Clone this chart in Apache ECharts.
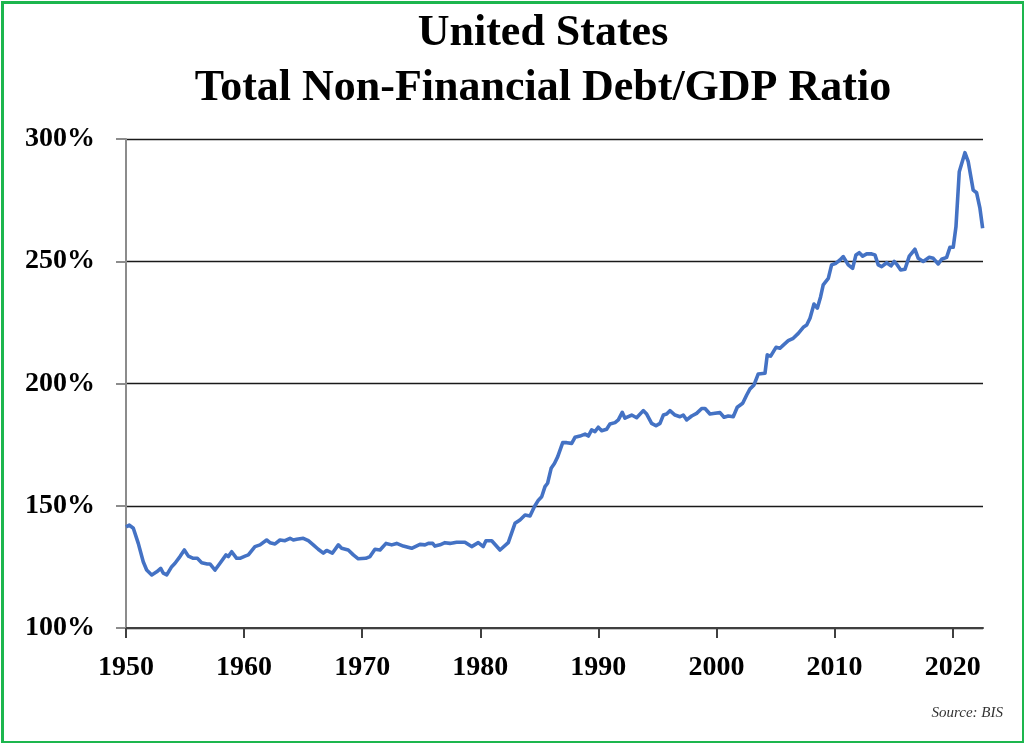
<!DOCTYPE html>
<html>
<head>
<meta charset="utf-8">
<script src="https://cdn.jsdelivr.net/npm/echarts@6/dist/echarts.min.js"></script>
<style>
html,body{margin:0;padding:0;background:#fff;}
#chart{width:1024px;height:743px;}
</style>
</head>
<body>
<div id="chart"></div>
<script>
const titleLines = ['United States', 'Total Non-Financial Debt/GDP Ratio'];
const sourceText = 'Source: BIS';
const xTickYears = [1950, 1960, 1970, 1980, 1990, 2000, 2010, 2020];
const yTicks = [100, 150, 200, 250, 300];

const years = [
1950.0,1950.28,1950.62,1951.04,1951.46,1951.75,1952.18,1952.6,1952.94,1953.16,
1953.45,1953.87,1954.15,1954.57,1954.94,1955.28,1955.7,1956.04,1956.41,1956.88,
1957.11,1957.54,1957.96,1958.47,1958.66,1958.95,1959.37,1959.65,1960.08,1960.36,
1960.92,1961.35,1961.91,1962.19,1962.62,1963.04,1963.46,1963.89,1964.17,1964.45,
1965.01,1965.44,1965.86,1966.28,1966.71,1966.99,1967.47,1967.98,1968.26,1968.82,
1969.25,1969.67,1970.3,1970.66,1971.08,1971.51,1972.02,1972.5,1972.92,1973.48,
1974.19,1974.89,1975.32,1975.6,1975.97,1976.16,1976.59,1977.01,1977.43,1978.0,
1978.7,1979.27,1979.83,1980.25,1980.48,1980.97,1981.67,1982.37,1982.94,1983.36,
1983.79,1984.21,1984.58,1984.92,1985.2,1985.48,1985.7,1986.0,1986.28,1986.56,
1986.98,1987.32,1987.74,1988.02,1988.44,1988.87,1989.15,1989.43,1989.71,1989.99,
1990.28,1990.7,1990.98,1991.41,1991.69,1992.02,1992.25,1992.82,1993.24,1993.8,
1994.09,1994.51,1994.88,1995.22,1995.5,1995.78,1996.06,1996.49,1996.91,1997.19,
1997.48,1997.9,1998.32,1998.75,1999.03,1999.45,1999.87,2000.3,2000.64,2001.0,
2001.42,2001.76,2002.22,2002.56,2002.84,2003.18,2003.54,2004.11,2004.3,2004.59,
2005.04,2005.38,2005.66,2006.08,2006.5,2006.93,2007.35,2007.64,2007.92,2008.26,
2008.54,2008.82,2009.04,2009.47,2009.75,2010.12,2010.46,2010.74,2011.16,2011.53,
2011.81,2012.09,2012.38,2012.72,2013.14,2013.42,2013.7,2013.99,2014.41,2014.78,
2015.05,2015.31,2015.6,2015.96,2016.33,2016.81,2017.09,2017.51,2018.02,2018.36,
2018.78,2019.07,2019.49,2019.77,2020.05,2020.28,2020.56,2021.04,2021.32,2021.74,
2022.03,2022.31,2022.54
];
const debtToGdp = [
141.4,142.1,140.8,134.6,127.1,123.7,121.7,123.0,124.4,122.4,
121.7,125.1,126.5,129.2,131.9,129.4,128.5,128.5,126.7,126.2,
126.2,123.7,126.5,129.9,129.2,131.2,128.5,128.5,129.4,129.9,
133.3,134.0,136.0,134.9,134.4,136.0,135.7,136.7,136.0,136.3,
136.7,135.7,134.0,132.2,130.6,131.7,130.6,134.0,132.6,131.9,
129.9,128.3,128.5,129.2,132.2,131.9,134.6,134.0,134.6,133.5,
132.6,134.2,134.0,134.6,134.6,133.5,134.0,134.9,134.6,135.1,
135.1,133.3,134.9,133.3,135.7,135.7,131.9,134.9,142.8,144.2,
146.2,145.8,149.6,152.3,153.7,157.8,159.2,165.3,167.3,170.1,
175.8,175.8,175.5,178.0,178.5,179.3,178.5,181.0,180.3,182.1,
180.7,181.3,183.4,184.0,185.1,188.2,185.8,187.1,186.0,188.9,
187.5,183.7,182.7,183.7,187.1,187.5,188.9,187.1,186.4,187.1,
185.1,186.7,187.8,189.8,189.8,187.5,187.8,188.1,186.2,186.7,
186.4,190.3,191.9,195.3,197.8,199.4,203.9,204.2,211.7,211.2,
214.8,214.4,215.7,217.5,218.5,220.5,223.0,223.9,226.7,232.5,
230.8,235.5,240.3,243.0,248.5,249.2,250.5,251.9,248.5,247.1,
252.6,253.5,252.1,253.0,253.0,252.6,248.5,247.8,249.4,248.1,
249.9,248.5,246.4,246.7,252.1,254.9,251.2,249.9,251.6,251.2,
248.9,250.8,251.6,255.7,255.7,264.1,286.6,294.4,290.7,279.1,
278.0,271.7,263.5
];

const seriesData = years.map((y, i) => [y, debtToGdp[i]]);
const serif = '"Liberation Serif", "DejaVu Serif", serif';

const chart = echarts.init(document.getElementById('chart'), null, {renderer: 'canvas'});
chart.setOption({
  backgroundColor: '#ffffff',
  animation: false,
  title: [
    {text: titleLines[0], left: 538, top: 7, textAlign: 'center',
     textStyle: {fontFamily: serif, fontWeight: 'bold', fontSize: 44, color: '#000'}},
    {text: titleLines[1], left: 538, top: 62, textAlign: 'center',
     textStyle: {fontFamily: serif, fontWeight: 'bold', fontSize: 44, color: '#000'}}
  ],
  grid: {left: 126, right: 41, top: 139, bottom: 115, containLabel: false},
  xAxis: {
    type: 'value',
    min: 1950,
    max: 2022.57,
    interval: 10,
    axisLine: {show: true, onZero: false, lineStyle: {color: '#404040', width: 2}},
    axisTick: {show: true, inside: false, length: 10, customValues: xTickYears,
               lineStyle: {color: '#404040', width: 2}},
    axisLabel: {customValues: xTickYears, margin: 26, fontFamily: serif, fontWeight: 'bold',
                fontSize: 28, color: '#000', formatter: v => String(Math.round(v))},
    splitLine: {show: false}
  },
  yAxis: {
    type: 'value',
    min: 100,
    max: 300,
    interval: 50,
    axisLine: {show: true, lineStyle: {color: '#8c8c8c', width: 2}},
    axisTick: {show: true, inside: false, length: 10, lineStyle: {color: '#8c8c8c', width: 2}},
    axisLabel: {margin: 31, fontFamily: serif, fontWeight: 'bold', fontSize: 28, color: '#000',
                formatter: v => v + '%'},
    splitLine: {show: true, lineStyle: {color: '#1a1a1a', width: 1.3}}
  },
  series: [{
    type: 'line',
    data: seriesData,
    showSymbol: false,
    symbol: 'none',
    lineStyle: {color: '#4472C4', width: 3.6, join: 'round'},
    z: 3
  }],
  graphic: [
    {type: 'rect', left: 0, top: 0, z: 100, silent: true,
     shape: {x: 1.5, y: 1.5, width: 1021, height: 740},
     style: {fill: 'none', stroke: '#1db64e', lineWidth: 3}},
    {type: 'text', right: 21, top: 706, z: 100,
     style: {text: sourceText, fontFamily: serif, fontStyle: 'italic', fontSize: 15, fill: '#333'}}
  ]
});
</script>
</body>
</html>
